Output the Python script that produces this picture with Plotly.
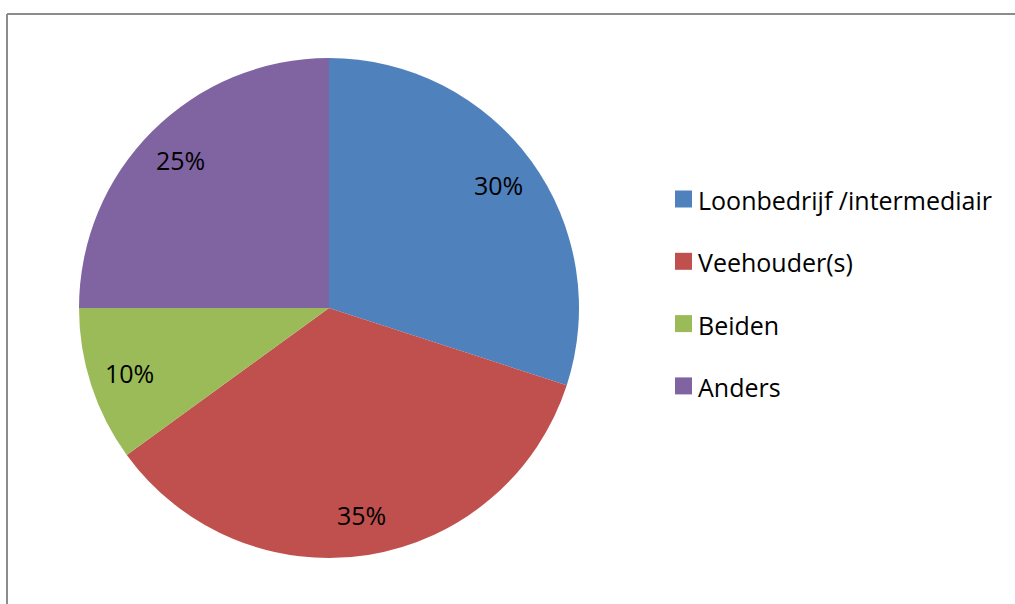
import math
import plotly.graph_objects as go

W, H = 1015, 604

# data
labels = ["Loonbedrijf /intermediair", "Veehouder(s)", "Beiden", "Anders"]
values = [30, 35, 10, 25]
colors = ["#4F81BD", "#C0504D", "#9BBB59", "#8064A2"]

# pie geometry (pixels)
cx, cy, r = 329, 308, 250

fig = go.Figure(go.Pie(
    labels=labels,
    values=values,
    sort=False,
    direction="clockwise",
    rotation=0,
    marker=dict(colors=colors, line=dict(width=0)),
    textinfo="none",
    hoverinfo="label+percent",
    showlegend=False,
    domain=dict(x=[(cx - r) / W, (cx + r) / W], y=[1 - (cy + r) / H, 1 - (cy - r) / H]),
))

def px(x, y):
    return x / W, 1 - y / H

annotations = []
shapes = []
font = "Open Sans, sans-serif"
fsize = 25

# percentage labels at mid-angle of each slice
total = sum(values)
start = 0.0
for v in values:
    mid = (start + v / 2) / total * 2 * math.pi
    start += v
    lx = cx + 0.84 * r * math.sin(mid)
    ly = cy - 0.84 * r * math.cos(mid)
    x, y = px(lx, ly)
    annotations.append(dict(x=x, y=y, xref="paper", yref="paper", showarrow=False,
                            xanchor="center", yanchor="middle",
                            text=f"{round(v / total * 100)}%",
                            font=dict(family=font, size=fsize, color="#000000")))

# custom legend
for i, (lab, col) in enumerate(zip(labels, colors)):
    yc = 199 + i * 62.3
    x0, y0 = px(675, yc - 8.5)
    x1, y1 = px(692, yc + 8.5)
    shapes.append(dict(type="rect", xref="paper", yref="paper", x0=x0, x1=x1, y0=y0, y1=y1,
                       fillcolor=col, line=dict(width=0)))
    tx, ty = px(696, yc + 1)
    annotations.append(dict(x=tx, y=ty, xref="paper", yref="paper", showarrow=False,
                            xanchor="left", yanchor="middle", text=lab,
                            font=dict(family=font, size=fsize, color="#000000")))

# chart frame (left and top edges visible)
bx, by = px(7, 14)
shapes.append(dict(type="line", xref="paper", yref="paper", x0=bx, x1=bx, y0=0, y1=by,
                   line=dict(color="#8C8C8C", width=2)))
shapes.append(dict(type="line", xref="paper", yref="paper", x0=bx, x1=1, y0=by, y1=by,
                   line=dict(color="#8C8C8C", width=2)))

fig.update_layout(
    width=W, height=H,
    margin=dict(l=0, r=0, t=0, b=0),
    paper_bgcolor="white",
    plot_bgcolor="white",
    annotations=annotations,
    shapes=shapes,
)

fig.write_html("out.html", config={"displayModeBar": False},
               post_script="document.body.style.margin='0';")
